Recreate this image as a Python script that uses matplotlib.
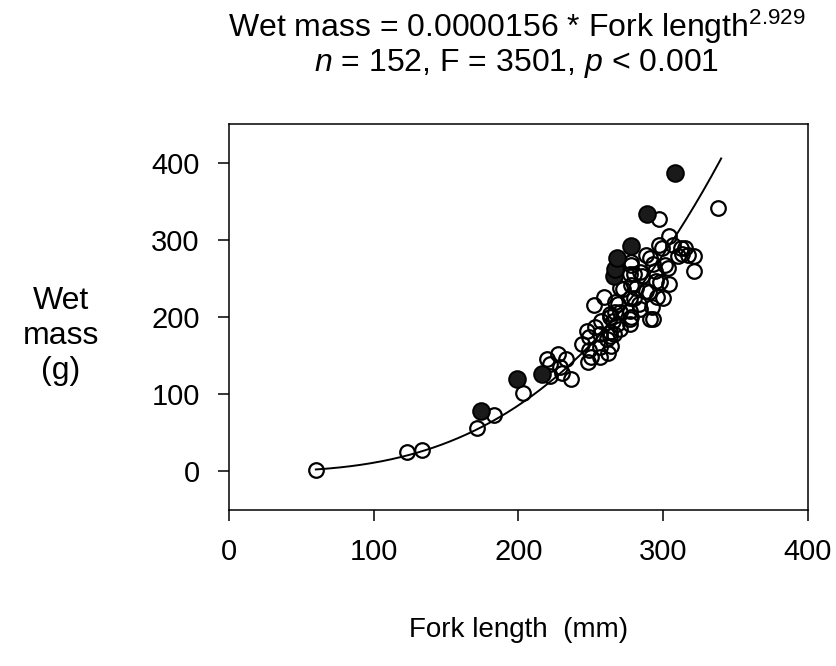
import numpy as np
import matplotlib
matplotlib.use('Agg')
import matplotlib.pyplot as plt

plt.rcParams['font.family'] = ['Liberation Sans', 'DejaVu Sans']
plt.rcParams['mathtext.fontset'] = 'custom'
plt.rcParams['mathtext.rm'] = 'Liberation Sans'
plt.rcParams['mathtext.it'] = 'Liberation Sans:italic'

# fish caught: fork length (mm) and wet mass (g)
open_length = [60, 123, 133, 171, 183, 203,
               220, 227, 233, 222, 229, 222, 236, 230,
               244, 249, 249, 248, 256, 262, 256, 263, 264, 266, 261,
               268, 263, 267, 252, 259, 269, 272, 277, 278, 277, 281,
               280, 278, 285, 283, 290, 293, 291, 294, 298, 300, 304,
               303, 299, 304, 310, 315, 321, 321, 297, 338,
               288, 297, 312, 317, 301, 293, 278, 284, 277, 295, 288,
               278, 270, 296, 280, 267, 292, 284, 277, 270, 263, 291,
               277, 265, 257, 253, 247, 270, 263, 250, 256, 307, 313]
open_mass = [2, 25, 28, 56, 73, 101,
             146, 152, 146, 139, 135, 124, 120, 128,
             165, 174, 157, 142, 161, 154, 178, 176, 163, 178, 172,
             191, 200, 206, 215, 226, 217, 236, 225, 200, 191, 238,
             256, 268, 253, 217, 232, 197, 277, 260, 245, 225, 243,
             264, 290, 305, 279, 289, 279, 260, 327, 341,
             280, 293, 290, 280, 267, 269, 271, 258, 256, 247, 234,
             241, 237, 226, 224, 219, 213, 211, 208, 206, 204, 198,
             198, 195, 195, 187, 182, 185, 180, 148, 148, 293, 282]

filled_length = [174, 199, 216, 266, 267, 268, 278, 289, 308]
filled_mass = [78, 120, 126, 253, 262, 276, 292, 333, 386]

# fitted power curve
coef_a = 0.0000156
coef_b = 2.929
fit_range = (60, 340)

fig = plt.figure(figsize=(8.37, 6.66), dpi=100)
ax = fig.add_axes([229 / 837, 1 - 510 / 666, 579 / 837, 386 / 666])

ax.plot(open_length, open_mass, 'o', ms=10.5, mfc='none', mec='black',
        mew=1.6, zorder=3)
ax.plot(filled_length, filled_mass, 'o', ms=12, mfc='#1a1a1a', mec='black',
        mew=1.4, zorder=4)

xs = np.linspace(fit_range[0], fit_range[1], 200)
ax.plot(xs, coef_a * xs ** coef_b, color='black', lw=1.4, zorder=5)

ax.set_xlim(0, 400)
ax.set_ylim(-50, 450)
ax.set_xticks([0, 100, 200, 300, 400])
ax.set_yticks([0, 100, 200, 300, 400])
ax.tick_params(direction='out', length=8, width=1.1, labelsize=21,
               color='black')
ax.tick_params(axis='x', pad=12)
ax.tick_params(axis='y', pad=13)
for sp in ax.spines.values():
    sp.set_linewidth(1.1)

fig.text(517 / 837, 1 - 37 / 666,
         r'Wet mass = 0.0000156 * Fork length$^{\mathrm{2.929}}$',
         ha='center', va='baseline', fontsize=23)
fig.text(517 / 837, 1 - 71 / 666,
         r'$n$ = 152, F = 3501, $p$ < 0.001',
         ha='center', va='baseline', fontsize=23)

fig.text(61 / 837, 1 - 336 / 666, 'Wet\nmass\n(g)', ha='center', va='center',
         fontsize=23, linespacing=1.2)
fig.text(519 / 837, 1 - 630 / 666, 'Fork length  (mm)', ha='center',
         va='center', fontsize=20)

fig.savefig('out.png', dpi=100)
